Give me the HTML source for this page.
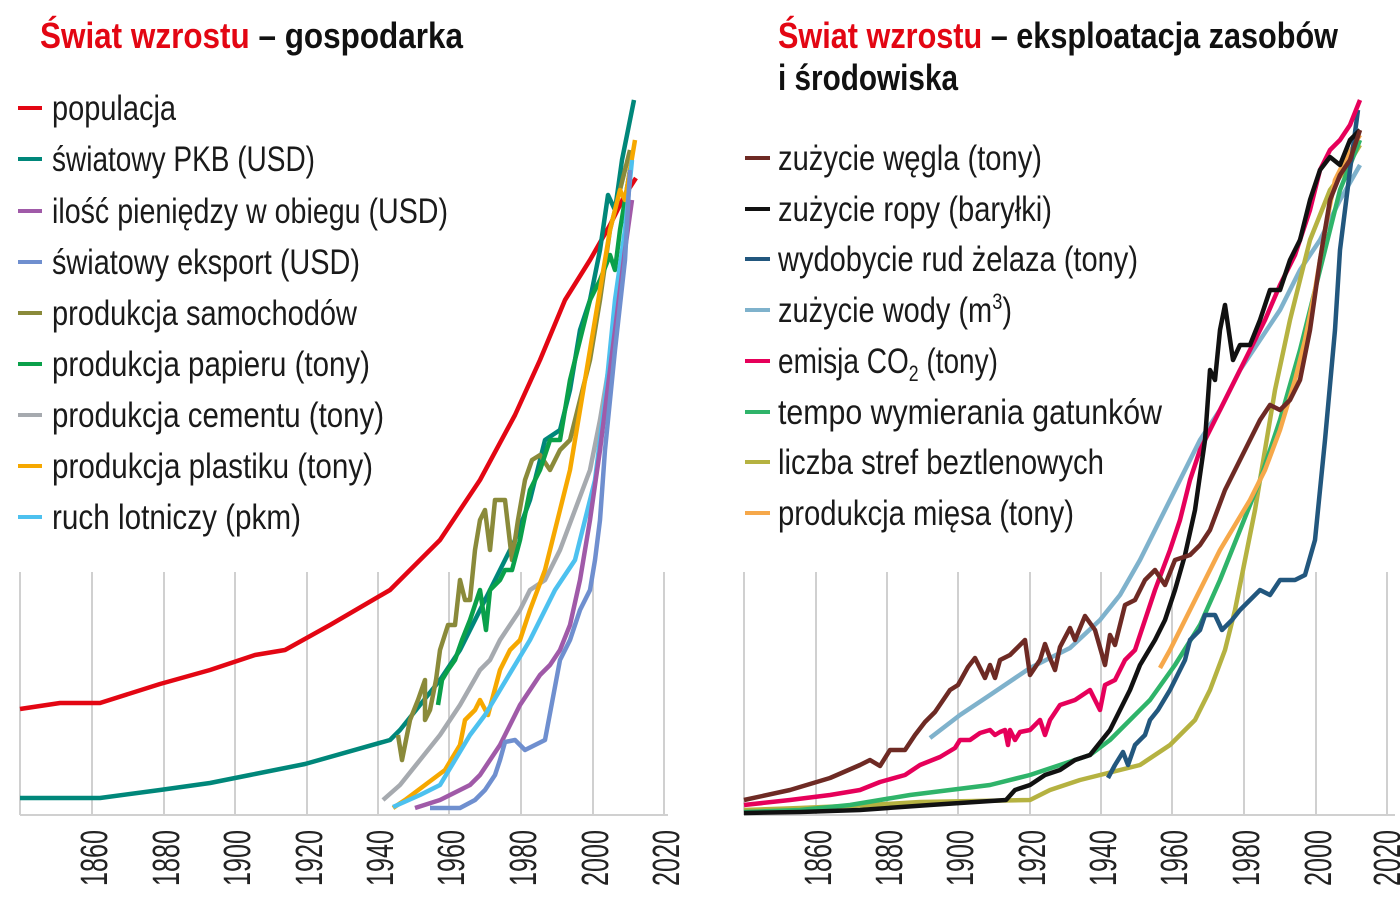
<!DOCTYPE html>
<html><head><meta charset="utf-8"><style>
body{margin:0;background:#fff;width:1400px;height:900px;overflow:hidden}
svg{display:block}
text{font-family:"Liberation Sans Narrow","Liberation Sans",sans-serif}
.t{font-size:36px;font-weight:bold}
.lg{font-size:35px;fill:#1a1a1a}
.ax{font-size:38px;fill:#222}
.g{stroke:#d0d0d0;stroke-width:2}
polyline{fill:none;stroke-width:4.5;stroke-linejoin:round}
</style></head><body>
<svg width="1400" height="900" viewBox="0 0 1400 900">
<text x="40" y="48" class="t" textLength="423" lengthAdjust="spacingAndGlyphs"><tspan fill="#e30613">Świat wzrostu</tspan><tspan fill="#111"> – gospodarka</tspan></text>
<text x="778" y="48" class="t" textLength="560" lengthAdjust="spacingAndGlyphs"><tspan fill="#e30613">Świat wzrostu</tspan><tspan fill="#111"> – eksploatacja zasobów</tspan></text>
<text x="778" y="90" class="t" fill="#111" textLength="180" lengthAdjust="spacingAndGlyphs">i środowiska</text>
<g stroke-width="4">
<line x1="18" x2="42" y1="108" y2="108" stroke="#e30613"/><text x="52" y="120" class="lg" textLength="124" lengthAdjust="spacingAndGlyphs">populacja</text>
<line x1="18" x2="42" y1="159" y2="159" stroke="#00877a"/><text x="52" y="171" class="lg" textLength="263" lengthAdjust="spacingAndGlyphs">światowy PKB (USD)</text>
<line x1="18" x2="42" y1="211" y2="211" stroke="#a05aa8"/><text x="52" y="223" class="lg" textLength="396" lengthAdjust="spacingAndGlyphs">ilość pieniędzy w obiegu (USD)</text>
<line x1="18" x2="42" y1="262" y2="262" stroke="#6f8fcf"/><text x="52" y="274" class="lg" textLength="308" lengthAdjust="spacingAndGlyphs">światowy eksport (USD)</text>
<line x1="18" x2="42" y1="313" y2="313" stroke="#8a8a3a"/><text x="52" y="325" class="lg" textLength="305" lengthAdjust="spacingAndGlyphs">produkcja samochodów</text>
<line x1="18" x2="42" y1="364" y2="364" stroke="#0aa04a"/><text x="52" y="376" class="lg" textLength="318" lengthAdjust="spacingAndGlyphs">produkcja papieru (tony)</text>
<line x1="18" x2="42" y1="415" y2="415" stroke="#a6aaaf"/><text x="52" y="427" class="lg" textLength="332" lengthAdjust="spacingAndGlyphs">produkcja cementu (tony)</text>
<line x1="18" x2="42" y1="466" y2="466" stroke="#f6a800"/><text x="52" y="478" class="lg" textLength="321" lengthAdjust="spacingAndGlyphs">produkcja plastiku (tony)</text>
<line x1="18" x2="42" y1="517" y2="517" stroke="#4dc1ef"/><text x="52" y="529" class="lg" textLength="249" lengthAdjust="spacingAndGlyphs">ruch lotniczy (pkm)</text>

<line x1="745" x2="770" y1="158" y2="158" stroke="#6e2a24"/><text x="778" y="170" class="lg" textLength="264" lengthAdjust="spacingAndGlyphs">zużycie węgla (tony)</text>
<line x1="745" x2="770" y1="209" y2="209" stroke="#111"/><text x="778" y="221" class="lg" textLength="274" lengthAdjust="spacingAndGlyphs">zużycie ropy (baryłki)</text>
<line x1="745" x2="770" y1="259" y2="259" stroke="#22577e"/><text x="778" y="271" class="lg" textLength="360" lengthAdjust="spacingAndGlyphs">wydobycie rud żelaza (tony)</text>
<line x1="745" x2="770" y1="310" y2="310" stroke="#7fb2cc"/><text x="778" y="322" class="lg" textLength="234" lengthAdjust="spacingAndGlyphs">zużycie wody (m<tspan dy="-13" font-size="22">3</tspan><tspan dy="13">)</tspan></text>
<line x1="745" x2="770" y1="361" y2="361" stroke="#e6005a"/><text x="778" y="373" class="lg" textLength="220" lengthAdjust="spacingAndGlyphs">emisja CO<tspan dy="8" font-size="22">2</tspan><tspan dy="-8"> (tony)</tspan></text>
<line x1="745" x2="770" y1="412" y2="412" stroke="#2fb46a"/><text x="778" y="424" class="lg" textLength="384" lengthAdjust="spacingAndGlyphs">tempo wymierania gatunków</text>
<line x1="745" x2="770" y1="462" y2="462" stroke="#b5b241"/><text x="778" y="474" class="lg" textLength="326" lengthAdjust="spacingAndGlyphs">liczba stref beztlenowych</text>
<line x1="745" x2="770" y1="513" y2="513" stroke="#f6a84a"/><text x="778" y="525" class="lg" textLength="296" lengthAdjust="spacingAndGlyphs">produkcja mięsa (tony)</text>
</g>
<g class="g">
<line x1="20" x2="20" y1="572" y2="815"/><line x1="92" x2="92" y1="572" y2="815"/><line x1="164" x2="164" y1="572" y2="815"/><line x1="235" x2="235" y1="572" y2="815"/><line x1="307" x2="307" y1="572" y2="815"/><line x1="378" x2="378" y1="572" y2="815"/><line x1="449" x2="449" y1="572" y2="815"/><line x1="521" x2="521" y1="572" y2="815"/><line x1="593" x2="593" y1="572" y2="815"/><line x1="664" x2="664" y1="572" y2="815"/>
<line x1="20" x2="668" y1="815" y2="815"/>
<line x1="744" x2="744" y1="572" y2="815"/><line x1="816" x2="816" y1="572" y2="815"/><line x1="887" x2="887" y1="572" y2="815"/><line x1="958" x2="958" y1="572" y2="815"/><line x1="1030" x2="1030" y1="572" y2="815"/><line x1="1101" x2="1101" y1="572" y2="815"/><line x1="1172" x2="1172" y1="572" y2="815"/><line x1="1244" x2="1244" y1="572" y2="815"/><line x1="1316" x2="1316" y1="572" y2="815"/><line x1="1387" x2="1387" y1="572" y2="815"/>
<line x1="744" x2="1395" y1="815" y2="815"/>
</g>
<g class="ax">
<text transform="translate(107,886) rotate(-90)" textLength="56" lengthAdjust="spacingAndGlyphs">1860</text>
<text transform="translate(179,886) rotate(-90)" textLength="56" lengthAdjust="spacingAndGlyphs">1880</text>
<text transform="translate(250,886) rotate(-90)" textLength="56" lengthAdjust="spacingAndGlyphs">1900</text>
<text transform="translate(322,886) rotate(-90)" textLength="56" lengthAdjust="spacingAndGlyphs">1920</text>
<text transform="translate(393,886) rotate(-90)" textLength="56" lengthAdjust="spacingAndGlyphs">1940</text>
<text transform="translate(464,886) rotate(-90)" textLength="56" lengthAdjust="spacingAndGlyphs">1960</text>
<text transform="translate(536,886) rotate(-90)" textLength="56" lengthAdjust="spacingAndGlyphs">1980</text>
<text transform="translate(608,886) rotate(-90)" textLength="56" lengthAdjust="spacingAndGlyphs">2000</text>
<text transform="translate(679,886) rotate(-90)" textLength="56" lengthAdjust="spacingAndGlyphs">2020</text>
<text transform="translate(831,886) rotate(-90)" textLength="56" lengthAdjust="spacingAndGlyphs">1860</text>
<text transform="translate(902,886) rotate(-90)" textLength="56" lengthAdjust="spacingAndGlyphs">1880</text>
<text transform="translate(973,886) rotate(-90)" textLength="56" lengthAdjust="spacingAndGlyphs">1900</text>
<text transform="translate(1045,886) rotate(-90)" textLength="56" lengthAdjust="spacingAndGlyphs">1920</text>
<text transform="translate(1116,886) rotate(-90)" textLength="56" lengthAdjust="spacingAndGlyphs">1940</text>
<text transform="translate(1187,886) rotate(-90)" textLength="56" lengthAdjust="spacingAndGlyphs">1960</text>
<text transform="translate(1259,886) rotate(-90)" textLength="56" lengthAdjust="spacingAndGlyphs">1980</text>
<text transform="translate(1331,886) rotate(-90)" textLength="56" lengthAdjust="spacingAndGlyphs">2000</text>
<text transform="translate(1400,886) rotate(-90)" textLength="56" lengthAdjust="spacingAndGlyphs">2020</text>
</g>
<polyline stroke="#e30613" points="20,709 60,703 100,703 160,684 210,670 255,655 285,650 330,625 390,590 440,540 480,480 515,415 540,360 565,300 590,260 610,225 625,195 636,178"/>
<polyline stroke="#00877a" points="20,798 100,798 160,790 210,783 250,775 305,764 390,740 400,730 420,705 440,680 460,650 480,610 500,570 515,540 530,500 545,440 560,430 570,390 580,330 590,300 600,250 608,195 615,210 622,160 634,100"/>
<polyline stroke="#8a8a3a" points="398,735 402,760 410,720 418,700 425,680 425,720 430,710 436,680 440,650 448,625 455,625 460,580 465,600 470,600 475,550 480,520 485,510 490,550 495,500 505,500 512,560 518,520 525,480 532,460 540,455 550,470 560,450 570,440 580,400 590,360 600,300 610,230 620,190 630,150"/>
<polyline stroke="#0aa04a" points="438,705 442,680 448,670 455,660 462,640 470,620 480,590 486,630 490,590 500,580 505,570 512,570 520,540 530,490 540,470 550,440 560,440 570,380 580,340 590,300 600,280 610,255 615,270 620,230 630,170"/>
<polyline stroke="#a6aaaf" points="383,800 400,785 420,760 440,735 460,705 480,670 490,660 500,640 510,625 520,610 530,590 545,580 560,550 575,510 590,470 600,420 610,360 620,290 630,200"/>
<polyline stroke="#f6a800" points="393,808 405,800 425,785 445,770 460,745 465,720 475,710 480,700 488,715 500,670 510,650 520,640 530,610 545,570 560,510 570,470 580,410 590,350 600,290 610,230 620,190 625,200 635,140"/>
<polyline stroke="#4dc1ef" points="393,807 420,795 440,785 455,760 470,735 485,715 500,690 515,665 530,640 545,610 555,590 565,575 575,560 585,520 595,480 605,400 615,300 625,230 632,160"/>
<polyline stroke="#a05aa8" points="415,808 440,800 460,790 470,785 480,775 490,760 500,745 510,725 520,705 530,690 540,675 550,665 560,650 570,625 580,580 590,520 600,450 610,370 620,290 625,250 632,200"/>
<polyline stroke="#6f8fcf" points="430,808 460,808 475,800 485,790 495,775 500,760 505,742 515,740 525,750 535,745 545,740 560,660 570,640 575,625 580,610 585,600 590,590 595,560 600,520 605,450 615,350 625,260 630,170"/>
<polyline stroke="#7fb2cc" points="930,738 960,715 990,695 1030,668 1070,648 1100,620 1120,595 1140,560 1160,520 1180,480 1200,440 1220,410 1240,370 1260,340 1280,310 1300,270 1320,240 1340,200 1360,165"/>
<polyline stroke="#b5b241" points="744,810 800,808 870,805 920,802 1030,800 1050,790 1080,780 1100,775 1140,765 1170,745 1195,720 1210,690 1225,650 1235,610 1245,560 1255,510 1265,450 1275,390 1290,320 1300,280 1310,240 1330,190 1345,170 1360,145"/>
<polyline stroke="#2fb46a" points="744,812 800,810 850,805 880,800 910,795 950,790 990,785 1030,775 1060,765 1090,755 1110,740 1130,720 1150,700 1175,665 1200,625 1220,580 1240,530 1260,480 1280,420 1300,350 1320,270 1340,190 1360,140"/>
<polyline stroke="#f6a84a" points="1160,668 1170,650 1185,620 1200,590 1210,570 1220,550 1235,525 1250,500 1265,470 1280,430 1295,380 1305,340 1315,290 1325,230 1335,180 1345,160 1360,135"/>
<polyline stroke="#22577e" points="1108,778 1115,765 1123,752 1128,765 1135,745 1145,735 1150,720 1158,710 1170,690 1175,680 1185,660 1190,640 1200,630 1205,615 1215,615 1222,630 1232,620 1240,610 1250,600 1260,590 1270,595 1280,580 1295,580 1305,575 1315,540 1325,440 1335,330 1340,250 1350,170 1358,110"/>
<polyline stroke="#e6005a" points="744,805 790,800 830,795 860,790 880,782 905,775 920,765 940,757 955,748 960,740 970,740 980,733 990,730 995,735 1000,732 1005,730 1008,745 1010,730 1015,740 1020,732 1030,730 1040,720 1045,735 1050,720 1060,705 1075,700 1090,690 1100,710 1105,685 1115,680 1125,660 1135,650 1145,620 1155,590 1170,550 1180,520 1190,480 1200,450 1215,420 1225,400 1235,380 1250,350 1265,320 1280,285 1295,255 1310,210 1320,170 1330,150 1340,140 1350,125 1360,100"/>
<polyline stroke="#111" points="744,813 800,812 860,810 930,805 960,803 1006,800 1015,790 1030,785 1045,775 1060,770 1075,760 1090,755 1110,730 1120,710 1130,690 1140,665 1155,640 1165,620 1175,590 1185,555 1195,510 1205,440 1210,370 1215,380 1220,330 1225,305 1233,360 1240,345 1250,345 1260,320 1270,290 1280,290 1290,260 1300,240 1310,200 1320,170 1330,157 1340,165 1350,140 1360,130"/>
<polyline stroke="#6e2a24" points="744,800 790,790 830,778 860,765 870,760 880,766 890,750 905,750 915,735 925,722 935,712 950,690 958,685 968,667 975,658 985,678 990,665 995,678 1000,660 1010,655 1015,650 1025,640 1030,675 1040,660 1045,644 1050,658 1055,670 1060,647 1070,628 1075,640 1085,616 1095,630 1105,665 1110,635 1115,645 1125,605 1135,600 1145,580 1155,570 1165,585 1175,560 1190,555 1200,545 1210,530 1225,490 1240,460 1250,440 1260,420 1270,405 1280,410 1290,400 1300,380 1310,330 1320,260 1330,200 1340,175 1350,160 1360,130"/>
</svg>
</body></html>
